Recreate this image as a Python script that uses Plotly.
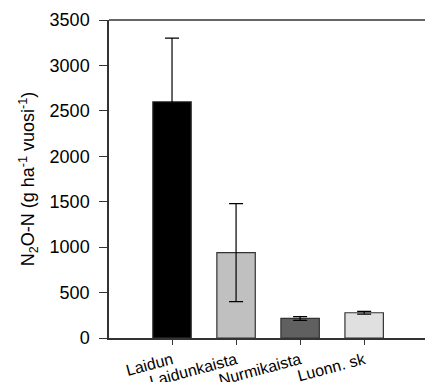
import plotly.graph_objects as go

categories = ["Laidun", "Laidunkaista", "Nurmikaista", "Luonn. sk"]
values = [2600, 940, 215, 278]
errors = [700, 540, 20, 15]
colors = ["#000000", "#c0c0c0", "#606060", "#e0e0e0"]
y_ticks = [0, 500, 1000, 1500, 2000, 2500, 3000, 3500]

font_family = "Liberation Sans, Arial, sans-serif"

fig = go.Figure()
fig.add_trace(go.Bar(
    x=list(range(len(categories))),
    y=values,
    width=0.6,
    marker=dict(color=colors, line=dict(color="#333333", width=1.2)),
    error_y=dict(type="data", array=errors, visible=True, color="#000000",
                 thickness=1.2, width=7),
))

fig.update_layout(
    width=425, height=382,
    margin=dict(l=109, r=0, t=20, b=44, pad=0),
    plot_bgcolor="white", paper_bgcolor="white",
    showlegend=False,
    font=dict(family=font_family, color="#000000"),
    xaxis=dict(
        range=[-0.984, 3.95],
        tickmode="array",
        tickvals=list(range(len(categories))),
        ticktext=categories,
        tickangle=-15,
        ticks="outside", ticklen=5, tickcolor="#333333",
        showline=True, linecolor="#333333", linewidth=1.5,
        showgrid=False, zeroline=False,
        tickfont=dict(size=16),
        automargin=False,
    ),
    yaxis=dict(
        range=[0, 3500],
        tickmode="array",
        tickvals=y_ticks,
        ticks="outside", ticklen=8, tickcolor="#333333",
        showline=True, linecolor="#333333", linewidth=1.5,
        showgrid=False, zeroline=False,
        tickfont=dict(size=18),
        ticklabelstandoff=6,
        automargin=False,
        title=dict(text="N<sub>2</sub>O-N (g ha<sup>-1</sup> vuosi<sup>-1</sup>)",
                   font=dict(size=18), standoff=10),
    ),
    shapes=[dict(type="line", xref="paper", yref="paper", x0=0, x1=1, y0=1, y1=1,
                 line=dict(color="#333333", width=1.5))],
)

fig.write_html("out.html")
